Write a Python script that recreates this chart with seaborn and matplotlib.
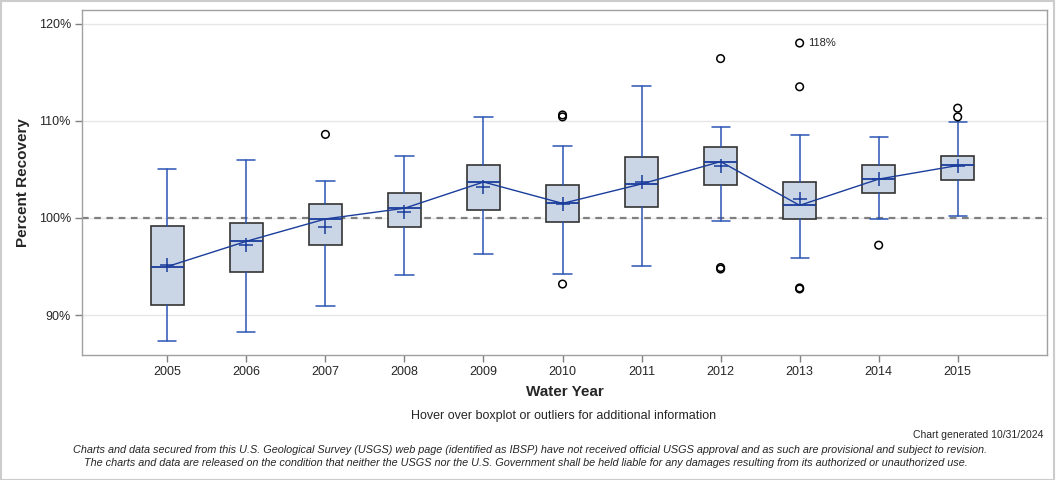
import numpy as np
import pandas as pd
import matplotlib
matplotlib.use("Agg")
import matplotlib.pyplot as plt
import seaborn as sns

years = ["2005", "2006", "2007", "2008", "2009", "2010", "2011", "2012", "2013", "2014", "2015"]
whisker_low = [87.3, 88.3, 90.9, 94.1, 96.3, 94.2, 95.1, 99.7, 95.9, 99.9, 100.2]
q1 = [91.0, 94.4, 97.2, 99.1, 100.8, 99.6, 101.1, 103.4, 99.9, 102.6, 103.9]
median = [95.0, 97.6, 99.9, 101.0, 103.7, 101.5, 103.5, 105.8, 101.3, 104.0, 105.4]
q3 = [99.2, 99.5, 101.4, 102.6, 105.4, 103.4, 106.3, 107.3, 103.7, 105.5, 106.4]
whisker_high = [105.0, 106.0, 103.8, 106.4, 110.4, 107.4, 113.6, 109.4, 108.5, 108.3, 109.9]
means = [95.2, 97.2, 99.1, 100.6, 103.2, 101.4, 103.7, 105.3, 102.0, 104.0, 105.3]
outlier_year = ["2007", "2010", "2010", "2010", "2012", "2012", "2012", "2013", "2013", "2013", "2013", "2014", "2015", "2015"]
outlier_val = [108.6, 110.6, 110.4, 93.2, 116.4, 94.9, 94.75, 118.0, 113.5, 92.8, 92.7, 97.2, 110.4, 111.3]
y_ticks = [90, 100, 110, 120]
y_tick_labels = ["90%", "100%", "110%", "120%"]

sns.set_style("white")
plt.rcParams['font.family'] = ['Liberation Sans', 'DejaVu Sans']

fig = plt.figure(figsize=(10.56, 4.8), dpi=100)
ax = fig.add_axes([82/1056, 1-355/480, (1047-82)/1056, (355-10)/480])

box_face = "#CAD5E6"
box_edge = "#333333"
blue = "#2B55B5"
dark_blue = "#1A3D9C"

pos = np.arange(len(years))
stats = []
for i, y in enumerate(years):
    stats.append(dict(label=y, whislo=whisker_low[i], q1=q1[i], med=median[i],
                      q3=q3[i], whishi=whisker_high[i], mean=means[i], fliers=[]))

# grid and reference line
for t in y_ticks:
    ax.axhline(t, color="#E6E6E6", lw=1, zorder=0)
ax.axhline(100, color="#808080", lw=1.6, ls=(0, (3, 2.5)), zorder=1)

ax.bxp(stats, positions=pos, widths=0.41, patch_artist=True, showmeans=False,
       showfliers=False,
       boxprops=dict(facecolor=box_face, edgecolor=box_edge, linewidth=1.2),
       whiskerprops=dict(color=blue, linewidth=1.1),
       capprops=dict(color=blue, linewidth=1.1),
       medianprops=dict(color=dark_blue, linewidth=1.3),
       capwidths=0.23, manage_ticks=False, zorder=2)

df_med = pd.DataFrame({"x": pos, "median": median})
sns.lineplot(data=df_med, x="x", y="median", ax=ax, color=dark_blue, lw=1.0, zorder=3)

df_mean = pd.DataFrame({"x": pos, "mean": means})
sns.scatterplot(data=df_mean, x="x", y="mean", ax=ax, marker="+", s=90, color=dark_blue,
                linewidth=1.1, zorder=4)

ox = [years.index(y) for y in outlier_year]
df_out = pd.DataFrame({"x": ox, "val": outlier_val})
sns.scatterplot(data=df_out, x="x", y="val", ax=ax, marker="o", s=30, facecolor="none",
                edgecolor="black", linewidth=1.1, zorder=5)

imax = int(np.argmax(outlier_val))
ax.annotate(f"{outlier_val[imax]:.0f}%", (ox[imax], outlier_val[imax]), xytext=(6, 0),
            textcoords="offset points", va="center", ha="left", fontsize=8)

ax.set_xlim(-1.08, 11.13)
ax.set_ylim(85.9, 121.4)
ax.set_xticks(pos)
ax.set_xticklabels(years, fontsize=9)
ax.set_yticks(y_ticks)
ax.set_yticklabels(y_tick_labels, fontsize=9)
ax.tick_params(axis="both", length=5, width=1, color="#808080", direction="out",
               bottom=True, left=True, pad=3)
ax.set_xlabel("Water Year", fontsize=11, fontweight="bold", labelpad=5)
ax.set_ylabel("Percent Recovery", fontsize=11, fontweight="bold", labelpad=6)
for s in ax.spines.values():
    s.set_color("#A0A0A0")
    s.set_linewidth(1)

fig.text(564/1056, 1-416/480, "Hover over boxplot or outliers for additional information",
         ha="center", va="center", fontsize=9)
fig.text(1043/1056, 1-435/480, "Chart generated 10/31/2024", ha="right", va="center", fontsize=7.5)
fig.text(530/1056, 1-450/480,
         "Charts and data secured from this U.S. Geological Survey (USGS) web page (identified as IBSP) have not received official USGS approval and as such are provisional and subject to revision.",
         ha="center", va="center", fontsize=7.8, style="italic")
fig.text(526/1056, 1-463/480,
         "The charts and data are released on the condition that neither the USGS nor the U.S. Government shall be held liable for any damages resulting from its authorized or unauthorized use.",
         ha="center", va="center", fontsize=7.8, style="italic")

fig.patches.append(plt.Rectangle((0.0005, 0.001), 0.998, 0.997, transform=fig.transFigure,
                                 fill=False, edgecolor="#CCCCCC", lw=1.5))

fig.savefig("out.png", dpi=100)
